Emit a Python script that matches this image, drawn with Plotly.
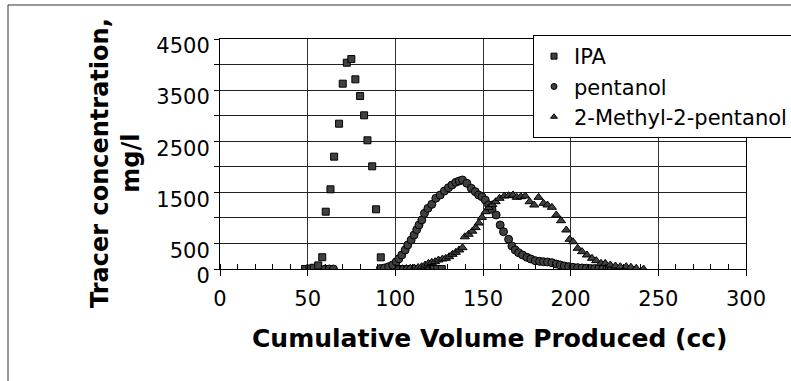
import plotly.graph_objects as go

# ---------------- data ----------------
ipa_x = [48.5, 51.0, 53.5, 56.0, 58.3, 60.3, 63.0, 65.1, 67.9, 70.0, 72.3, 74.9,
         77.2, 79.9, 82.2, 84.1, 86.8, 89.0, 91.7, 94.0, 96.5, 99.0, 101.5, 104.0,
         106.5, 109.0, 111.5, 114.0, 116.5, 119.0, 121.5, 124.0, 126.5]
ipa_y = [0, 10, 25, 70, 230, 1121, 1559, 2198, 2843, 3626, 4036, 4108,
         3711, 3385, 3007, 2518, 2009, 1168, 228, 0, 0, 0, 0, 0,
         0, 0, 0, 0, 0, 0, 0, 0, 0]

pent_x = [60.0, 62.4, 64.7, 91.5, 93.8, 96.2, 98.5, 100.5, 102.0, 103.7, 105.6,
          107.1, 109.0, 110.7, 112.2, 113.5, 115.1, 116.6, 118.6, 120.8, 123.1,
          125.6, 128.0, 130.3, 132.3, 134.5, 136.4, 138.3, 140.8, 143.3, 145.6,
          147.5, 149.4, 151.3, 153.2, 155.1, 157.5, 159.8, 161.7, 164.6, 166.5,
          168.4, 170.3, 172.6, 175.1, 177.3, 179.8, 182.3, 184.5, 186.8, 189.3,
          191.8, 194.1, 196.4, 198.8, 201.3, 204.0, 206.5, 208.9, 211.3, 213.7,
          216.0, 218.4, 220.8, 223.2, 225.6, 228.0]
pent_y = [0, 0, 0, 10, 20, 45, 80, 140, 200, 274, 372,
          470, 567, 665, 770, 861, 959, 1089, 1187, 1265, 1383,
          1448, 1526, 1591, 1643, 1696, 1722, 1741, 1677, 1579, 1513,
          1448, 1415, 1350, 1252, 1168, 1057, 861, 730, 581, 450,
          372, 319, 274, 228, 196, 163, 150, 143, 137, 124,
          98, 78, 59, 46, 33, 26, 20, 14, 10, 8,
          5, 3, 2, 0, 0, 0]

mmp_x = [101.5, 104.0, 106.3, 108.5, 110.8, 113.0, 115.0, 117.0, 118.9, 120.8,
         122.7, 124.6, 126.9, 128.8, 130.7, 132.6, 134.5, 136.4, 138.3, 139.6,
         141.8, 143.9, 145.8, 147.6, 149.4, 151.5, 153.3, 155.3, 157.2, 159.4,
         162.1, 164.6, 167.1, 169.3, 171.6, 174.1, 176.6, 179.2, 181.7, 184.5,
         186.8, 189.3, 191.8, 194.5, 197.5, 199.4, 201.3, 204.0, 206.5, 209.3,
         212.2, 214.6, 217.3, 219.7, 222.6, 225.5, 228.3, 231.7, 234.4, 237.4,
         241.6]
mmp_y = [0, 5, 10, 15, 20, 30, 45, 78, 111, 130,
         143, 176, 196, 209, 241, 287, 326, 372, 417, 630,
         680, 740, 810, 900, 1010, 1120, 1200, 1260, 1317, 1383,
         1428, 1434, 1448, 1402, 1415, 1428, 1317, 1252, 1402, 1285,
         1252, 1207, 1057, 945, 763, 581, 534, 405, 339, 274,
         209, 163, 111, 111, 78, 59, 45, 45, 33, 14,
         0]

y_tickvals = [0, 500, 1000, 1500, 2000, 2500, 3000, 3500, 4000, 4500]
y_ticktext = ["0", "500", "", "1500", "", "2500", "", "3500", "", "4500"]
x_tickvals = [0, 50, 100, 150, 200, 250, 300]

FONT = "DejaVu Sans"
MFILL = "#404040"

fig = go.Figure()
series = [
    ("IPA", ipa_x, ipa_y, "square", 7),
    ("pentanol", pent_x, pent_y, "circle", 8),
    ("2-Methyl-2-pentanol", mmp_x, mmp_y, "triangle-up", 8),
]
for name, xs, ys, sym, sz in series:
    fig.add_trace(go.Scatter(
        x=xs, y=ys, mode="markers", name=name, showlegend=False,
        marker=dict(symbol=sym, size=sz, color=MFILL, line=dict(color="black", width=1)),
    ))
# legend entries (small symbols as in the original)
for name, xs, ys, sym, sz in series:
    fig.add_trace(go.Scatter(
        x=[None], y=[None], mode="markers", name=name, showlegend=True,
        marker=dict(symbol=sym, size=6, color=MFILL, line=dict(color="black", width=1)),
    ))

L, R, T, B = 220, 45, 39, 112
PW = 791 - L - R
PH = 381 - T - B

def px2paper_x(px):
    return (px - L) / PW

def px2paper_y(py):
    return (381 - B - py) / PH

fig.update_layout(
    width=791, height=381,
    margin=dict(l=L, r=R, t=T, b=B, autoexpand=False),
    paper_bgcolor="white", plot_bgcolor="white",
    font=dict(family=FONT, color="black", size=21),
    showlegend=True,
    legend=dict(
        x=px2paper_x(533), y=px2paper_y(35), xanchor="left", yanchor="top",
        bgcolor="white", bordercolor="black", borderwidth=1,
        font=dict(family=FONT, size=21, color="black"),
        tracegroupgap=0, itemwidth=30,
    ),
    xaxis=dict(
        range=[0, 300], tickvals=x_tickvals, ticks="outside", ticklen=6,
        tickcolor="black", tickwidth=1,
        showline=True, linecolor="black", linewidth=1, mirror=True,
        showgrid=True, gridcolor="#333333", gridwidth=1, zeroline=False,
        tickfont=dict(family=FONT, size=21, color="black"),
        ticklabelstandoff=5,
        minor=dict(dtick=10, ticks="inside", ticklen=5, tickcolor="black", showgrid=False),
        fixedrange=True,
    ),
    yaxis=dict(
        range=[0, 4500], tickvals=y_tickvals, ticktext=y_ticktext,
        ticks="outside", ticklen=5, tickcolor="black", tickwidth=1,
        showline=True, linecolor="black", linewidth=1, mirror=True,
        showgrid=True, gridcolor="#222222", gridwidth=1, zeroline=False,
        tickfont=dict(family=FONT, size=21, color="black"),
        ticklabelshift=7, ticklabelstandoff=0,
        fixedrange=True,
    ),
    annotations=[
        dict(text="<b>Cumulative Volume Produced (cc)</b>", xref="paper", yref="paper",
             x=px2paper_x(490), y=px2paper_y(338), xanchor="center", yanchor="middle",
             showarrow=False, font=dict(family=FONT, size=25, color="black")),
        dict(text="<b>Tracer concentration,<br>mg/l</b>", xref="paper", yref="paper",
             x=px2paper_x(115), y=px2paper_y(163), xanchor="center", yanchor="middle",
             textangle=-90, showarrow=False, align="center",
             font=dict(family=FONT, size=24, color="black")),
    ],
    shapes=[
        dict(type="rect", xref="paper", yref="paper",
             x0=px2paper_x(8), x1=px2paper_x(830), y0=px2paper_y(420), y1=px2paper_y(5),
             line=dict(color="#333333", width=1), fillcolor="rgba(0,0,0,0)", layer="above"),
    ],
)

fig.write_html(
    "out.html",
    config={"displayModeBar": False, "staticPlot": True},
    post_script="document.body.style.margin='0';document.body.style.padding='0';document.body.style.overflow='hidden';",
)
